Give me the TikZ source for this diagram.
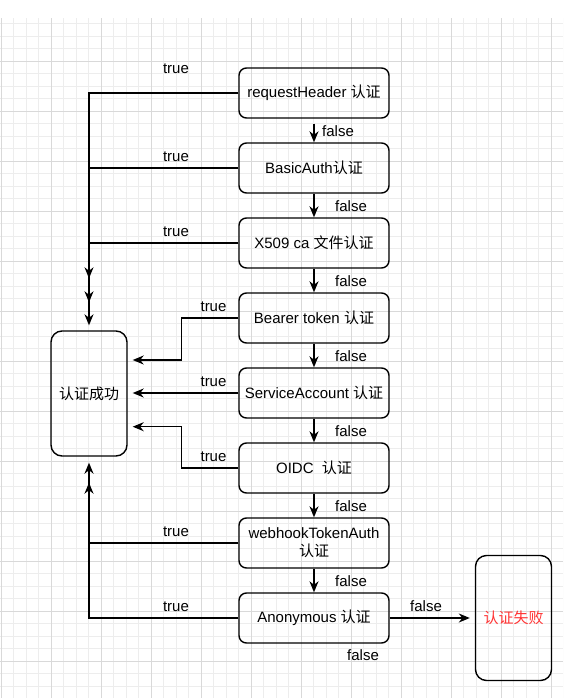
\documentclass[tikz,border=0pt]{standalone}
\usepackage{fontspec}
\setmainfont{Liberation Sans}
\newfontfamily\cjk{Noto Sans CJK SC}
\usetikzlibrary{arrows.meta}
\definecolor{minorgrid}{HTML}{EDEDED}
\definecolor{majorgrid}{HTML}{D9D9D9}
\definecolor{failred}{HTML}{FF3333}

\begin{document}
\begin{tikzpicture}[x=1pt,y=-1pt,
  every node/.style={font=\fontsize{15}{18}\selectfont},
  stepbox/.style={draw, line width=1.4pt, rounded corners=7.5pt,
    minimum width=150pt, minimum height=50pt, align=center, inner sep=0pt},
  endbox/.style={draw, line width=1.4pt, rounded corners=11pt,
    minimum width=76pt, minimum height=125pt, inner sep=0pt},
  flow/.style={line width=1.4pt, -{Stealth[length=11pt,width=9pt,inset=3.5pt]}},
  lbl/.style={anchor=base, inner sep=0pt},
  minorline/.style={draw=minorgrid, line width=0.8pt},
  majorline/.style={draw=majorgrid, line width=0.8pt},
]
\useasboundingbox (0,0) rectangle (563,698);
\fill[white] (0,0) rectangle (563,698);

% background grid
\begin{scope}
  \clip (0,18.5) rectangle (563,698);
  \foreach \k in {0,...,45}
    \draw[minorline] ({1+12.5*\k},18.5) -- ({1+12.5*\k},698);
  \foreach \k in {1,...,55}
    \draw[minorline] (0,{11+12.5*\k}) -- (563,{11+12.5*\k});
  \foreach \k in {0,...,11}
    \draw[majorline] ({1+50*\k},18.5) -- ({1+50*\k},698);
  \foreach \k in {0,...,12}
    \draw[majorline] (0,{61+50*\k}) -- (563,{61+50*\k});
\end{scope}

% authentication steps
\node[stepbox] (rh) at (314,93)  {requestHeader {\cjk 认证}};
\node[stepbox] (ba) at (314,168) {BasicAuth{\cjk 认证}};
\node[stepbox] (xc) at (314,243) {X509 ca {\cjk 文件认证}};
\node[stepbox] (bt) at (314,318) {Bearer token {\cjk 认证}};
\node[stepbox] (sa) at (314,393) {ServiceAccount {\cjk 认证}};
\node[stepbox] (oi) at (314,468) {OIDC\ \ {\cjk 认证}};
\node[stepbox] (wh) at (314,543) {webhookTokenAuth\\{\cjk 认证}};
\node[stepbox] (an) at (314,618) {Anonymous {\cjk 认证}};

% outcomes
\node[endbox] (ok) at (89,393.5) {\cjk 认证成功};
\node[endbox, text=failred] (ng) at (513.5,618) {\cjk 认证失败};

% false chain
\draw[flow] ([yshift=-5pt]rh.south) -- (ba.north);
\draw[flow] (ba.south) -- (xc.north);
\draw[flow] (xc.south) -- (bt.north);
\draw[flow] (bt.south) -- (sa.north);
\draw[flow] (sa.south) -- (oi.north);
\draw[flow] (oi.south) -- (wh.north);
\draw[flow] (wh.south) -- (an.north);
\draw[flow] (an.east) -- ([xshift=-5pt]ng.west);

% true branches
\draw[flow] (rh.west) -| ([yshift=52pt]ok.north);
\draw[flow] (ba.west) -| ([yshift=28pt]ok.north);
\draw[flow] (xc.west) -| ([yshift=5pt]ok.north);
\draw[flow] (bt.west) -- ++(-57,0) |- ([xshift=5pt,yshift=33.5pt]ok.east);
\draw[flow] (sa.west) -- ([xshift=5pt]ok.east |- sa.west);
\draw[flow] (oi.west) -- ++(-57,0) |- ([xshift=5pt,yshift=-33.2pt]ok.east);
\draw[flow] (wh.west) -| ([yshift=-26pt]ok.south);
\draw[flow] (an.west) -| ([yshift=-6pt]ok.south);

% edge labels
\node[lbl] (t1) at (176,73.3)  {true};
\node[lbl] (t2) at (176,161)   {true};
\node[lbl] (t3) at (176,236)   {true};
\node[lbl] (t4) at (213.5,311.5) {true};
\node[lbl] (t5) at (213.5,386.5) {true};
\node[lbl] (t6) at (213.5,461.5) {true};
\node[lbl] (t7) at (176,536)   {true};
\node[lbl] (t8) at (176,611)   {true};

\node[lbl] (f1) at (338,136)   {false};
\node[lbl] (f2) at (351,211.5) {false};
\node[lbl] (f3) at (351,286.5) {false};
\node[lbl] (f4) at (351,361.5) {false};
\node[lbl] (f5) at (351,436.5) {false};
\node[lbl] (f6) at (351,511)   {false};
\node[lbl] (f7) at (351,586)   {false};
\node[lbl] (f8) at (426,611)   {false};
\node[lbl] (f9) at (363,660.7) {false};
\end{tikzpicture}
\end{document}
